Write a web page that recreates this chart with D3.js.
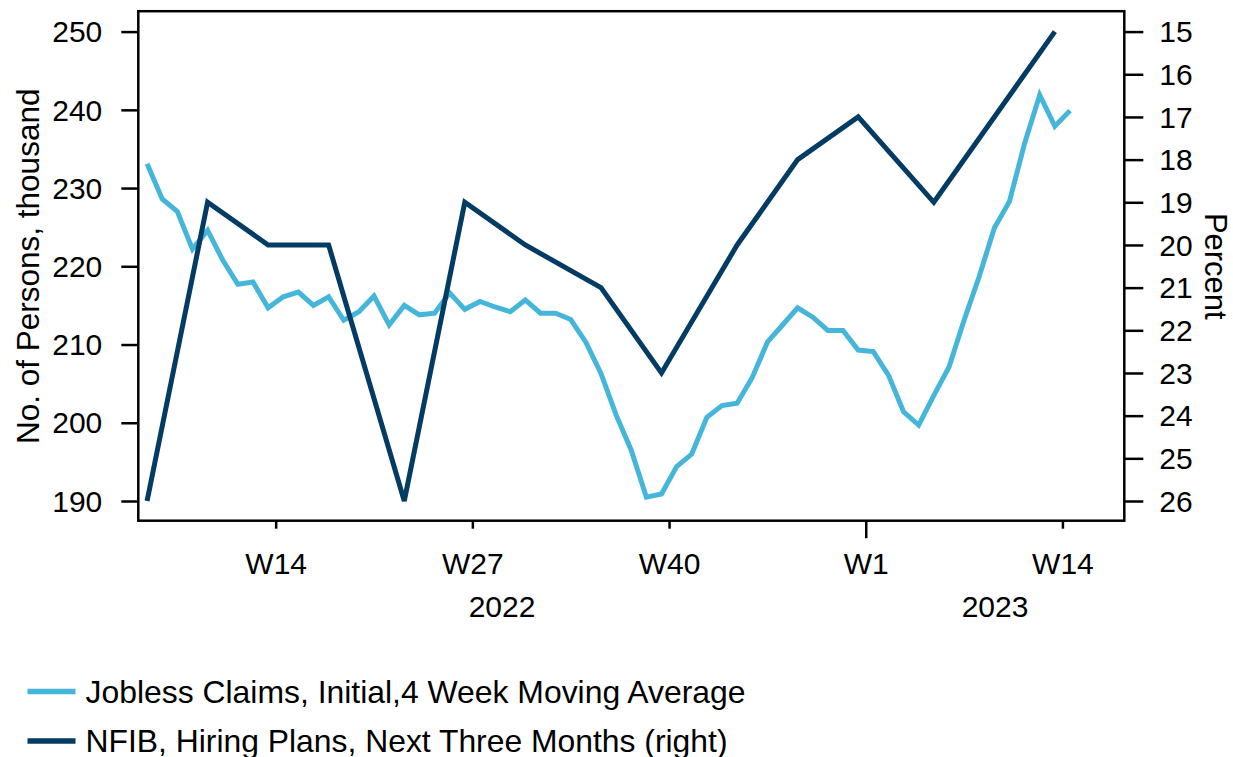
<!DOCTYPE html>
<html>
<head>
<meta charset="utf-8">
<script src="https://cdn.jsdelivr.net/npm/d3@7"></script>
<style>
  html, body { margin: 0; padding: 0; background: #fff; }
  svg { display: block; }
  text { font-family: "Liberation Sans", Arial, sans-serif; fill: #000; }
</style>
</head>
<body>
<svg id="chart" width="1233" height="757"></svg>
<script>
// ---------- DATA ----------
const claimsWeeks = [
  "2022-W05","2022-W06","2022-W07","2022-W08","2022-W09","2022-W10","2022-W11","2022-W12","2022-W13","2022-W14",
  "2022-W15","2022-W16","2022-W17","2022-W18","2022-W19","2022-W20","2022-W21","2022-W22","2022-W23","2022-W24",
  "2022-W25","2022-W26","2022-W27","2022-W28","2022-W29","2022-W30","2022-W31","2022-W32","2022-W33","2022-W34",
  "2022-W35","2022-W36","2022-W37","2022-W38","2022-W39","2022-W40","2022-W41","2022-W42","2022-W43","2022-W44",
  "2022-W45","2022-W46","2022-W47","2022-W48","2022-W49","2022-W50","2022-W51","2022-W52","2023-W01","2023-W02",
  "2023-W03","2023-W04","2023-W05","2023-W06","2023-W07","2023-W08","2023-W09","2023-W10","2023-W11","2023-W12",
  "2023-W13","2023-W14"
];
const claimsValues = [
  233.1, 228.6, 227.0, 222.2, 224.6, 220.8, 217.7, 218.0, 214.7, 216.1,
  216.7, 215.0, 216.1, 213.1, 214.2, 216.2, 212.5, 215.0, 213.8, 214.0,
  216.6, 214.5, 215.5, 214.8, 214.2, 215.7, 214.0, 214.0, 213.2, 210.3,
  206.3, 201.0, 196.5, 190.5, 190.9, 194.4, 196.0, 200.7, 202.2, 202.5,
  205.8, 210.3, 212.5, 214.7, 213.5, 211.8, 211.8, 209.3, 209.1, 206.1,
  201.4, 199.7, 203.5, 207.1, 213.1, 218.7, 224.9, 228.3, 235.7, 241.9,
  237.9, 239.9
];
const nfibWeeks = [
  "2022-W05","2022-W09","2022-W13","2022-W17","2022-W22","2022-W26","2022-W30","2022-W35",
  "2022-W39","2022-W44","2022-W48","2022-W52","2023-W05","2023-W09","2023-W13"
];
const nfibValues = [26, 19, 20, 20, 26, 19, 20, 21, 23, 20, 18, 17, 19, 17, 15];

const leftTicks = [190, 200, 210, 220, 230, 240, 250];
const rightTicks = [15, 16, 17, 18, 19, 20, 21, 22, 23, 24, 25, 26];
const xTickWeeks = ["2022-W14", "2022-W27", "2022-W40", "2023-W01", "2023-W14"];
const xTickLabels = ["W14", "W27", "W40", "W1", "W14"];
const yearLabels = ["2022", "2023"];
const yearStartWeeks = ["2022-W01", "2023-W01"];

const leftTitle = "No. of Persons, thousand";
const rightTitle = "Percent";
const legendLabels = [
  "Jobless Claims, Initial,4 Week Moving Average",
  "NFIB, Hiring Plans, Next Three Months (right)"
];

// ---------- LAYOUT ----------
const frame = { left: 138.3, right: 1124.3, top: 11.2, bottom: 520.7 };
const colors = { claims: "#45B6DA", nfib: "#023B63" };

function weekNum(label) {
  const parts = label.split("-W");
  return (+parts[0] - 2022) * 52 + (+parts[1]);
}

const x = d3.scaleLinear().domain([4.92, 70.09]).range([frame.left, frame.right]);
const yL = d3.scaleLinear().domain([190, 250]).range([501.0, 31.6]);
const yR = d3.scaleLinear().domain([26, 15]).range([501.0, 31.6]);

const svg = d3.select("#chart");

// axes
const fontTick = 30;

const gLeft = svg.append("g").attr("transform", `translate(${frame.left},0)`)
  .call(d3.axisLeft(yL).tickValues(leftTicks).tickSize(17).tickSizeOuter(0).tickPadding(19));
const gRight = svg.append("g").attr("transform", `translate(${frame.right},0)`)
  .call(d3.axisRight(yR).tickValues(rightTicks).tickSize(19).tickSizeOuter(0).tickPadding(16));
const gBottom = svg.append("g").attr("transform", `translate(0,${frame.bottom})`)
  .call(d3.axisBottom(x).tickValues(xTickWeeks.map(weekNum))
    .tickFormat((d, i) => xTickLabels[i]).tickSize(8).tickSizeOuter(0));

[gLeft, gRight, gBottom].forEach(g => {
  g.select(".domain").remove();
  g.selectAll(".tick line").attr("stroke", "#000").attr("stroke-width", 2.5);
  g.selectAll("text").style("font-size", fontTick + "px")
    .style("font-family", '"Liberation Sans", Arial, sans-serif').attr("fill", "#000");
});
gLeft.selectAll("text").attr("dy", "0.34em");
gRight.selectAll("text").attr("dy", "0.34em");
gBottom.selectAll("text").attr("y", 53.3).attr("dy", 0);
// longer tick at year boundary
gBottom.selectAll(".tick").filter(d => d === weekNum("2023-W01"))
  .select("line").attr("y2", 17.5);

// year labels centered on visible portion of each year
const [d0, d1] = x.domain();
yearLabels.forEach((yl, i) => {
  const s = Math.max(d0, weekNum(yearStartWeeks[i]));
  const e = i + 1 < yearStartWeeks.length ? weekNum(yearStartWeeks[i + 1]) : d1;
  svg.append("text")
    .attr("x", (x(s) + x(e)) / 2)
    .attr("y", 616.5)
    .attr("text-anchor", "middle")
    .style("font-size", fontTick + "px")
    .text(yl);
});

// axis titles
svg.append("text")
  .attr("transform", `translate(38.5,${(31.6 + 501) / 2}) rotate(-90)`)
  .attr("text-anchor", "middle")
  .style("font-size", "31.5px")
  .text(leftTitle);
svg.append("text")
  .attr("transform", `translate(1205,${(31.6 + 501) / 2}) rotate(90)`)
  .attr("text-anchor", "middle")
  .style("font-size", "31px")
  .text(rightTitle);

// lines
const claimsData = claimsWeeks.map((w, i) => ({ w: weekNum(w) + 0.5, v: claimsValues[i] }));
const nfibData = nfibWeeks.map((w, i) => ({ w: weekNum(w) + 0.5, v: nfibValues[i] }));

svg.append("path")
  .datum(claimsData)
  .attr("fill", "none")
  .attr("stroke", colors.claims)
  .attr("stroke-width", 5)
  .attr("stroke-linejoin", "miter")
  .attr("d", d3.line().x(d => x(d.w)).y(d => yL(d.v)));

svg.append("path")
  .datum(nfibData)
  .attr("fill", "none")
  .attr("stroke", colors.nfib)
  .attr("stroke-width", 5)
  .attr("stroke-linejoin", "miter")
  .attr("d", d3.line().x(d => x(d.w)).y(d => yR(d.v)));

// frame
svg.append("rect")
  .attr("x", frame.left).attr("y", frame.top)
  .attr("width", frame.right - frame.left).attr("height", frame.bottom - frame.top)
  .attr("fill", "none").attr("stroke", "#000").attr("stroke-width", 2.5);

// legend
const legendY = [691.5, 741];
const legendWidths = [660, 642];
[colors.claims, colors.nfib].forEach((c, i) => {
  svg.append("line")
    .attr("x1", 27.5).attr("x2", 75.5)
    .attr("y1", legendY[i]).attr("y2", legendY[i])
    .attr("stroke", c).attr("stroke-width", 5.5);
  svg.append("text")
    .attr("x", 85.5)
    .attr("y", legendY[i] + 11)
    .style("font-size", "30.5px")
    .attr("textLength", legendWidths[i])
    .attr("lengthAdjust", "spacingAndGlyphs")
    .text(legendLabels[i]);
});
</script>
</body>
</html>
